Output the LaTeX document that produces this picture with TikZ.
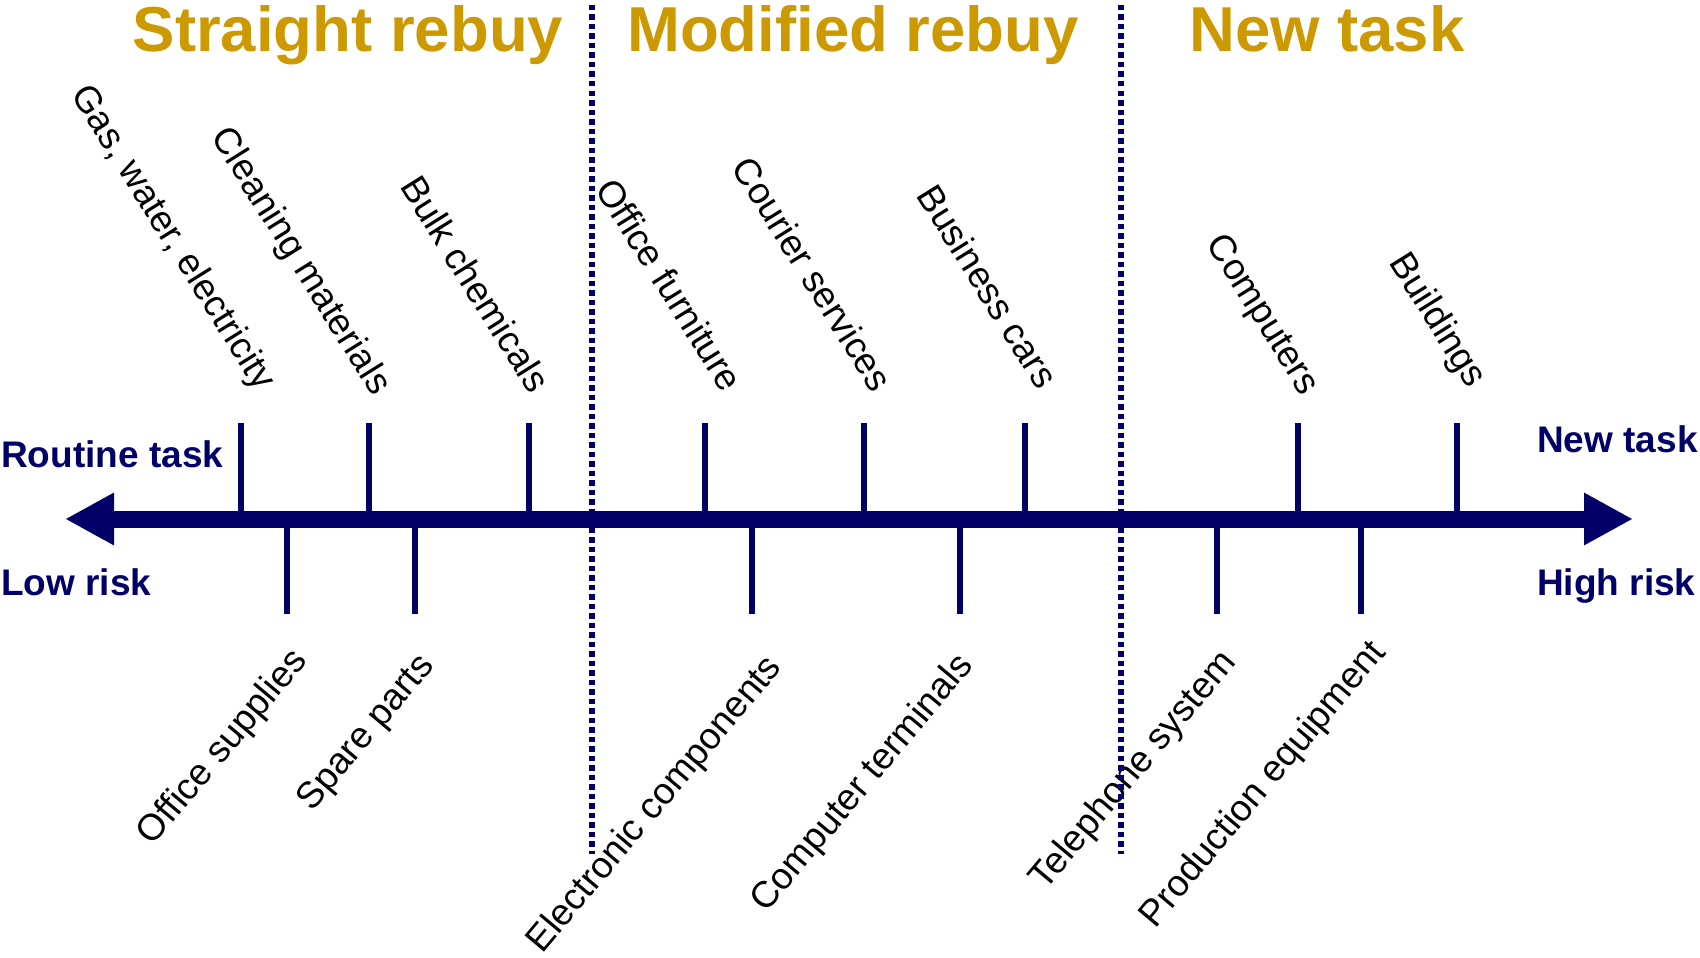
\documentclass[tikz,border=0pt]{standalone}
\usepackage{fontspec}
\setmainfont{Liberation Sans}
\usetikzlibrary{arrows.meta}
\definecolor{navyblue}{RGB}{0,0,102}
\definecolor{goldtone}{RGB}{204,153,0}
\begin{document}
\begin{tikzpicture}[x=1pt,y=-1pt,
  heading/.style={text=goldtone,font=\fontsize{63.5}{70}\selectfont\bfseries,inner sep=0pt,anchor=base},
  sidelabel/.style={text=navyblue,font=\fontsize{37}{44}\selectfont\bfseries,inner sep=0pt,anchor=base west},
  itemlabel/.style={font=\fontsize{37}{44}\selectfont,inner sep=0pt,anchor=center},
  uplabel/.style={itemlabel,rotate=-58},
  downlabel/.style={itemlabel,rotate=50},
  tickline/.style={draw=navyblue,line width=6pt},
  divider/.style={draw=navyblue,line width=5.5pt,dash pattern=on 5.5pt off 4pt},
  axis/.style={draw=navyblue,line width=17pt,{Triangle[length=49pt 0,width=49pt 0]}-{Triangle[length=49pt 0,width=49pt 0]}}
]
\useasboundingbox (0,0) rectangle (1700,958);

% purchase classes
\node[heading] (h1) at (348,52) {Straight rebuy};
\node[heading] (h2) at (853,52) {Modified rebuy};
\node[heading] (h3) at (1327,52) {New task};

% axis end points
\coordinate (lo) at (65,519);
\coordinate (hi) at (1633,519);

% items above the axis
\foreach \i/\x/\cx/\cy/\txt in {
  1/240.7/171.9/238.5/{Gas, water, electricity},
  2/368.6/299.8/261.8/{Cleaning materials},
  3/529.1/476/284/{Bulk chemicals},
  4/704.7/670/284.6/{Office furniture},
  5/864.1/813/273.8/{Courier services},
  6/1024.6/988.2/286.2/{Business cars},
  7/1297.8/1261.5/315.5/{Computers},
  8/1457.2/1436.6/320.9/{Buildings}}{
  \coordinate (ut\i) at (\x,423);
  \draw[tickline] (ut\i) -- (ut\i |- lo);
  \node[uplabel] (ul\i) at (\cx,\cy) {\txt};
}

% items below the axis
\foreach \i/\x/\cx/\cy/\txt in {
  1/287.3/223.3/748.1/{Office supplies},
  2/415.2/367/733.5/{Spare parts},
  3/752.4/655.3/805.3/{Electronic components},
  4/959.5/863/783.9/{Computer terminals},
  5/1216.5/1134/770.9/{Telephone system},
  6/1360.7/1263.7/785/{Production equipment}}{
  \coordinate (dt\i) at (\x,614);
  \draw[tickline] (dt\i) -- (dt\i |- lo);
  \node[downlabel] (dl\i) at (\cx,\cy) {\txt};
}

% the task axis
\draw[axis] (lo) -- (hi);

% class boundaries
\coordinate (d1a) at (592,5);
\coordinate (d1b) at (592,854);
\coordinate (d2a) at (1121,5);
\coordinate (d2b) at (1121,854);
\draw[divider] (d1a) -- (d1b);
\draw[divider] (d2a) -- (d2b);

% axis end labels
\node[sidelabel] (routine) at (1,467) {Routine task};
\node[sidelabel] (lowrisk) at (1,595) {Low risk};
\node[sidelabel] (newtask) at (1537,452) {New task};
\node[sidelabel] (highrisk) at (1537,595) {High risk};
\end{tikzpicture}
\end{document}
